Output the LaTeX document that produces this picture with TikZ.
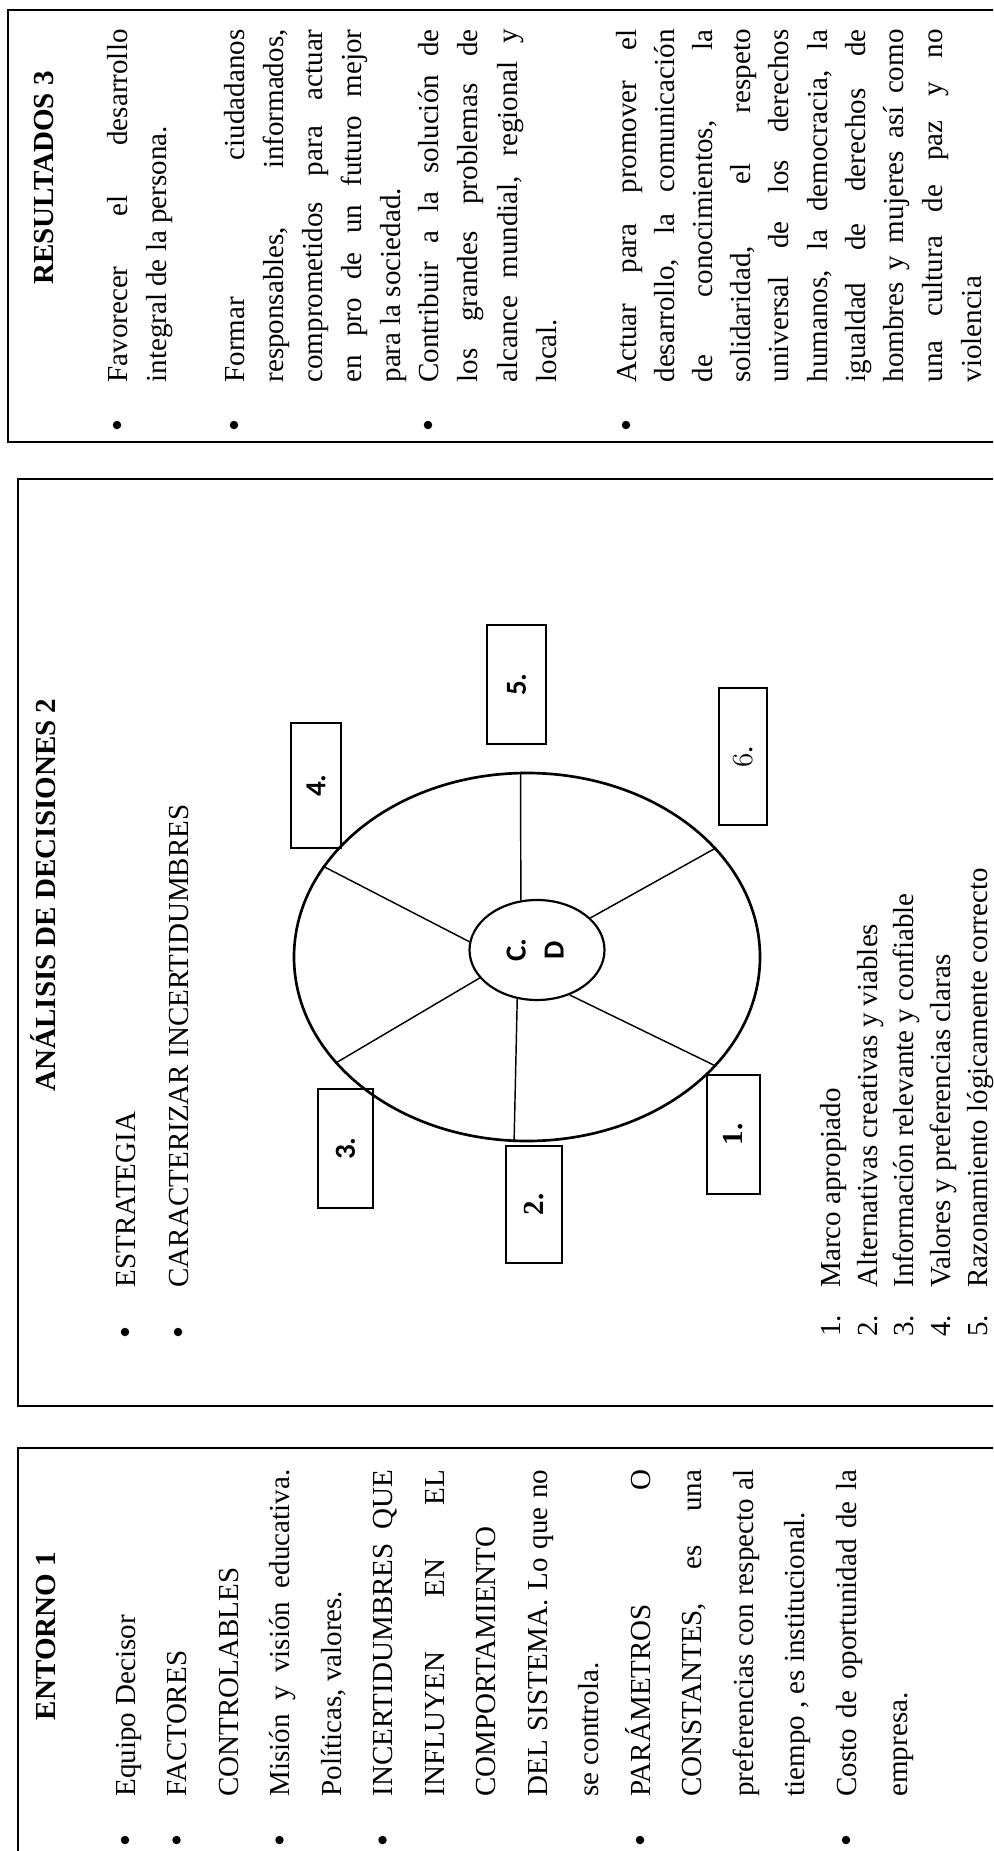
\documentclass[tikz,border=0pt]{standalone}
\usepackage{fontspec}
\usepackage{graphicx}
\setmainfont{Liberation Serif}
\newfontfamily\calib{Carlito}
\usetikzlibrary{shapes.geometric}
% one drawing unit = one pixel of the page
\newcommand\pxu{0.4132pt}
% justified lines of the two text columns
\newcommand\jE[1]{\makebox[135.1pt][s]{#1}}
\newcommand\jR[1]{\makebox[145.9pt][s]{#1}}
% old-style figure six
\newcommand\oldsix{{\usefont{OML}{cmm}{m}{it}6}}
\begin{document}
\begin{tikzpicture}[x=0.4132pt,y=-0.4132pt,
  line/.style={rotate=90,anchor=base west,inner sep=0pt,font=\fontsize{12}{14}\selectfont},
  head/.style={rotate=90,anchor=base,inner sep=0pt,font=\fontsize{12}{14}\selectfont\bfseries},
  dot/.style={circle,fill=black,inner sep=0pt,minimum size=8.5*\pxu},
  frame/.style={draw=black,line width=0.9pt},
  numbox/.style={draw=black,line width=0.8pt,rotate=90,inner sep=0pt,font=\fontsize{12}{14}\selectfont},
  spoke/.style={draw=black,line width=0.6pt},
]
\useasboundingbox (0,0) rectangle (993,1851);
\clip (0,0) rectangle (993,1851);

% ---------- frames ----------
\draw[frame] (8,10) rectangle (1020,442);
\draw[frame] (18,479) rectangle (1020,1406);
\draw[frame] (18,1448) rectangle (1020,1880);

% ---------- ENTORNO 1 ----------
\node[head] (hE) at (55,1636) {ENTORNO 1};
\node[line] (e1)  at (135,1797)   {Equipo Decisor};
\node[line] (e2)  at (186.5,1797) {FACTORES};
\node[line] (e3)  at (238,1797)   {CONTROLABLES};
\node[line] (e4)  at (289.5,1797) {\jE{Misión y visión educativa.}};
\node[line] (e5)  at (341,1797)   {Políticas, valores.};
\node[line] (e6)  at (392.5,1797) {\jE{INCERTIDUMBRES QUE}};
\node[line] (e7)  at (444,1797)   {\jE{INFLUYEN EN EL}};
\node[line] (e8)  at (495.5,1797) {COMPORTAMIENTO};
\node[line] (e9)  at (547,1797)   {\jE{DEL SISTEMA. Lo que no}};
\node[line] (e10) at (598.5,1797) {se controla.};
\node[line] (e11) at (650,1797)   {\jE{PARÁMETROS O}};
\node[line] (e12) at (701.5,1797) {\jE{CONSTANTES, es una}};
\node[line] (e13) at (753,1797)   {\jE{preferencias con respecto al}};
\node[line] (e14) at (804.5,1797) {tiempo , es institucional.};
\node[line] (e15) at (856,1797)   {\jE{Costo de oportunidad de la}};
\node[line] (e16) at (907.5,1797) {empresa.};
\node[dot] (be1) at (125,1840) {};
\node[dot] (be2) at (176.5,1840) {};
\node[dot] (be3) at (279.5,1840) {};
\node[dot] (be4) at (382.5,1840) {};
\node[dot] (be5) at (640,1840) {};
\node[dot] (be6) at (846,1840) {};

% ---------- ANALISIS DE DECISIONES 2 ----------
\node[head] (hA) at (55,895) {ANÁLISIS DE DECISIONES 2};
\node[line] (m1) at (135,1288) {ESTRATEGIA};
\node[line] (m2) at (188,1288) {CARACTERIZAR INCERTIDUMBRES};
\node[dot] (bm1) at (125,1332) {};
\node[dot] (bm2) at (178,1332) {};

% wheel of the decision criteria
\node[ellipse,draw=black,line width=1.1pt,inner sep=0pt,
      minimum width=466*\pxu,minimum height=368*\pxu] (wheel) at (527,957) {};
\node[ellipse,draw=black,line width=0.9pt,inner sep=0pt,
      minimum width=135*\pxu,minimum height=100*\pxu] (cd) at (537,950)
  {\rotatebox{90}{\calib\bfseries\fontsize{12}{15.7}\selectfont
   \begin{tabular}{@{}c@{}}C.\\D\end{tabular}}};
\draw[spoke] (cd.173.4) -- (wheel.156.9);
\draw[spoke] (cd.108.8) -- (wheel.92.8);
\draw[spoke] (cd.31)    -- (wheel.30.5);
\draw[spoke] (cd.206.6) -- (wheel.209.5);
\draw[spoke] (cd.248)   -- (wheel.266.9);
\draw[spoke] (cd.306)   -- (wheel.330.8);

\node[numbox,minimum width=119*\pxu,minimum height=53*\pxu] (n1) at (733.5,1134.5) {\bfseries 1.};
\node[numbox,minimum width=117*\pxu,minimum height=56*\pxu] (n2) at (534,1204.5)  {\bfseries 2.};
\node[numbox,minimum width=119*\pxu,minimum height=55*\pxu] (n3) at (345.5,1148.5) {\calib\bfseries 3.};
\node[numbox,minimum width=125*\pxu,minimum height=50*\pxu] (n4) at (316,785.5)   {\calib\bfseries 4.};
\node[numbox,minimum width=119*\pxu,minimum height=59*\pxu] (n5) at (516.5,684.5) {\calib\bfseries 5.};
\node[numbox,minimum width=137*\pxu,minimum height=48*\pxu] (n6) at (743,756.5)   {\oldsix.};

% numbered list
\node[line] (ln1) at (840,1337) {1.};
\node[line] (ln2) at (877,1337) {2.};
\node[line] (ln3) at (913,1337) {3.};
\node[line] (ln4) at (950,1337) {4.};
\node[line] (ln5) at (987,1337) {5.};
\node[line] (li1) at (840,1288) {Marco apropiado};
\node[line] (li2) at (877,1288) {Alternativas creativas y viables};
\node[line] (li3) at (913,1288) {Información relevante y confiable};
\node[line] (li4) at (950,1288) {Valores y preferencias claras};
\node[line] (li5) at (987,1288) {Razonamiento lógicamente correcto};

% ---------- RESULTADOS 3 ----------
\node[head] (hR) at (53,178) {RESULTADOS 3};
\node[line] (r1)  at (127,383) {\jR{Favorecer el desarrollo}};
\node[line] (r2)  at (166,383) {integral de la persona.};
\node[line] (r4)  at (244,383) {\jR{Formar ciudadanos}};
\node[line] (r5)  at (283,383) {\jR{responsables, informados,}};
\node[line] (r6)  at (322,383) {\jR{comprometidos para actuar}};
\node[line] (r7)  at (361,383) {\jR{en pro de un futuro mejor}};
\node[line] (r8)  at (400,383) {para la sociedad.};
\node[line] (r9)  at (438,383) {\jR{Contribuir a la solución de}};
\node[line] (r10) at (477,383) {\jR{los grandes problemas de}};
\node[line] (r11) at (517,383) {\jR{alcance mundial, regional y}};
\node[line] (r12) at (556,383) {local.};
\node[line] (r14) at (636,383) {\jR{Actuar para promover el}};
\node[line] (r15) at (674,383) {\jR{desarrollo, la comunicación}};
\node[line] (r16) at (712,383) {\jR{de conocimientos, la}};
\node[line] (r17) at (750,383) {\jR{solidaridad, el respeto}};
\node[line] (r18) at (788,383) {\jR{universal de los derechos}};
\node[line] (r19) at (827,383) {\jR{humanos, la democracia, la}};
\node[line] (r20) at (865,383) {\jR{igualdad de derechos de}};
\node[line] (r21) at (903,383) {\jR{hombres y mujeres así como}};
\node[line] (r22) at (942,383) {\jR{una cultura de paz y no}};
\node[line] (r23) at (981,383) {violencia};
\node[dot] (br1) at (117,425) {};
\node[dot] (br2) at (234,425) {};
\node[dot] (br3) at (428,425) {};
\node[dot] (br4) at (626,425) {};
\end{tikzpicture}
\end{document}
